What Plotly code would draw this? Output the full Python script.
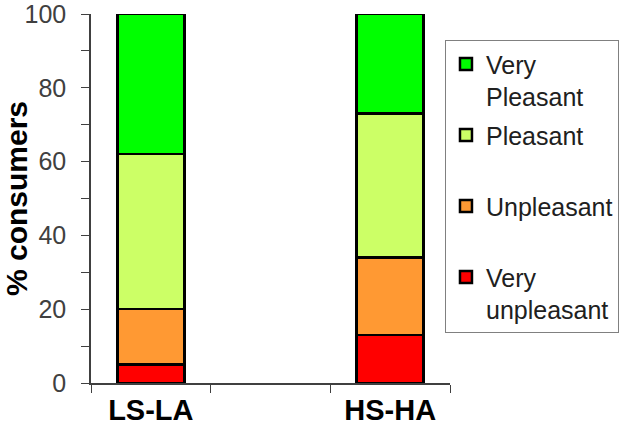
import plotly.graph_objects as go

# Consumer liking distribution per product type (percent of consumers)
categories = ["LS-LA", " ", "HS-HA"]
very_unpleasant = [5, None, 13]
unpleasant = [15, None, 21]
pleasant = [42, None, 39]
very_pleasant = [38, None, 27]

series = [
    ("Very<br>unpleasant", very_unpleasant, "#FF0000"),
    ("Unpleasant<br> ", unpleasant, "#FF9933"),
    ("Pleasant<br> ", pleasant, "#CCFF66"),
    ("Very<br>Pleasant", very_pleasant, "#00FF00"),
]

fig = go.Figure()
for i, (name, vals, color) in enumerate(series):
    # top segment of the stack is listed first in the legend
    fig.add_trace(go.Bar(
        x=categories, y=vals, name=name, legendgroup=str(i),
        legendrank=1000 - i,
        marker=dict(color=color, line=dict(color="black", width=2.5)),
    ))

fig.update_layout(
    width=631, height=443,
    margin=dict(l=91, r=178, t=14, b=60),
    barmode="stack", bargap=0.44,
    plot_bgcolor="white", paper_bgcolor="white",
    font=dict(family="Liberation Sans, Arial, sans-serif", color="#404040"),
    legend=dict(
        x=0.986, y=0.929, xanchor="left", yanchor="top",
        traceorder="grouped", valign="top", tracegroupgap=3,
        bordercolor="#808080", borderwidth=1,
        font=dict(size=25, color="#202020"),
        itemwidth=30,
    ),
    xaxis=dict(
        type="category", categoryorder="array", categoryarray=categories,
        range=[-0.5, 2.5], tickson="boundaries", ticks="outside", ticklen=8,
        tickcolor="#404040", showline=True, linecolor="#404040", linewidth=1.5,
        tickfont=dict(size=29, color="black", weight="bold"),
        showgrid=False, automargin=False,
    ),
    yaxis=dict(
        range=[0, 100.01], tickmode="array", tickvals=[0, 20, 40, 60, 80, 100],
        ticks="outside", ticklen=8, ticklabeloverflow="allow",
        tickcolor="#404040", showline=True, linecolor="#404040", linewidth=1.5,
        tickfont=dict(size=25, color="#404040"), ticklabelstandoff=10,
        minor=dict(tickvals=[10, 30, 50, 70, 90], ticks="outside", ticklen=8,
                   tickcolor="#404040"),
        showgrid=False, zeroline=False, automargin=False,
        title=dict(text="% consumers", standoff=2,
                   font=dict(size=30, color="black", weight="bold")),
    ),
)

fig.write_html("out.html")
